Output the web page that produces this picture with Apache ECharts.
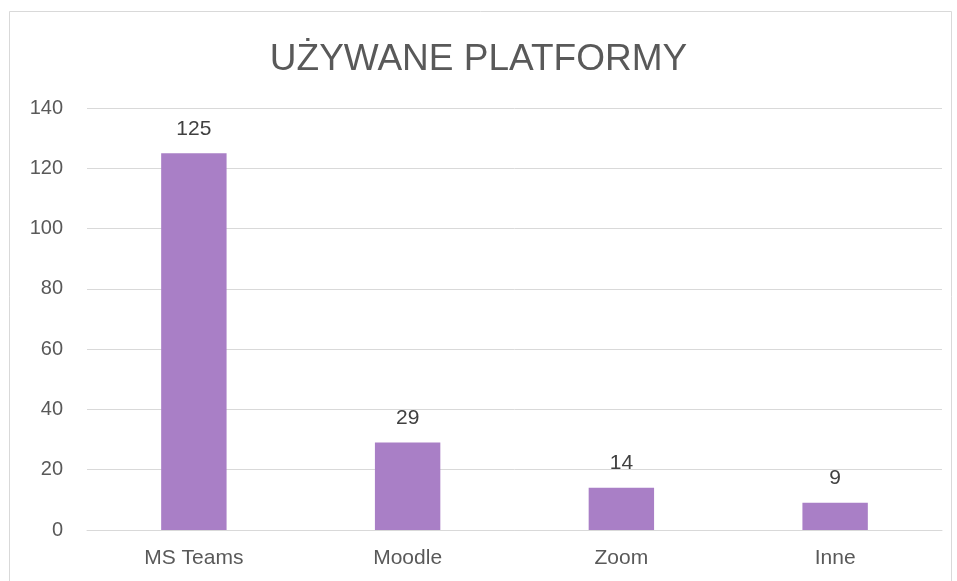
<!DOCTYPE html>
<html>
<head>
<meta charset="utf-8">
<script src="https://cdn.jsdelivr.net/npm/echarts@6/dist/echarts.min.js"></script>
<style>
  html, body { margin: 0; padding: 0; background: #fff; }
  #chart { width: 957px; height: 581px; }
</style>
</head>
<body>
<div id="chart"></div>
<script>
const categories = ['MS Teams', 'Moodle', 'Zoom', 'Inne'];
const values = [125, 29, 14, 9];
const yTicks = [0, 140, 20]; // min, max, interval

let chart = echarts.init(document.getElementById('chart'));

let option = {
  backgroundColor: '#fff',
  textStyle: { fontFamily: 'Liberation Sans, Arial, sans-serif' },
  title: {
    text: 'UŻYWANE PLATFORMY',
    left: 'center',
    top: 36,
    textStyle: {
      fontSize: 37,
      fontWeight: 'normal',
      color: '#595959',
      fontFamily: 'Liberation Sans, Arial, sans-serif'
    }
  },
  graphic: [{
    type: 'rect',
    shape: { x: 9.5, y: 11.5, width: 942, height: 580 },
    style: { fill: 'none', stroke: '#d9d9d9', lineWidth: 1 },
    silent: true
  }],
  grid: { left: 87, right: 15, top: 108, bottom: 51 },
  xAxis: {
    type: 'category',
    data: categories,
    axisLine: { show: true, lineStyle: { color: '#d9d9d9' } },
    axisTick: { show: false },
    axisLabel: { fontSize: 21, color: '#595959', margin: 18 }
  },
  yAxis: {
    type: 'value',
    min: yTicks[0],
    max: yTicks[1],
    interval: yTicks[2],
    axisLine: { show: false },
    axisTick: { show: false },
    axisLabel: { fontSize: 20, color: '#595959', margin: 24 },
    splitLine: { lineStyle: { color: '#d9d9d9' } }
  },
  series: [{
    type: 'bar',
    data: values,
    barWidth: '30.6%',
    itemStyle: { color: '#a97fc6' },
    label: {
      show: true,
      position: 'top',
      distance: 14,
      fontSize: 21,
      color: '#404040'
    }
  }]
};

chart.setOption(option);
</script>
</body>
</html>
